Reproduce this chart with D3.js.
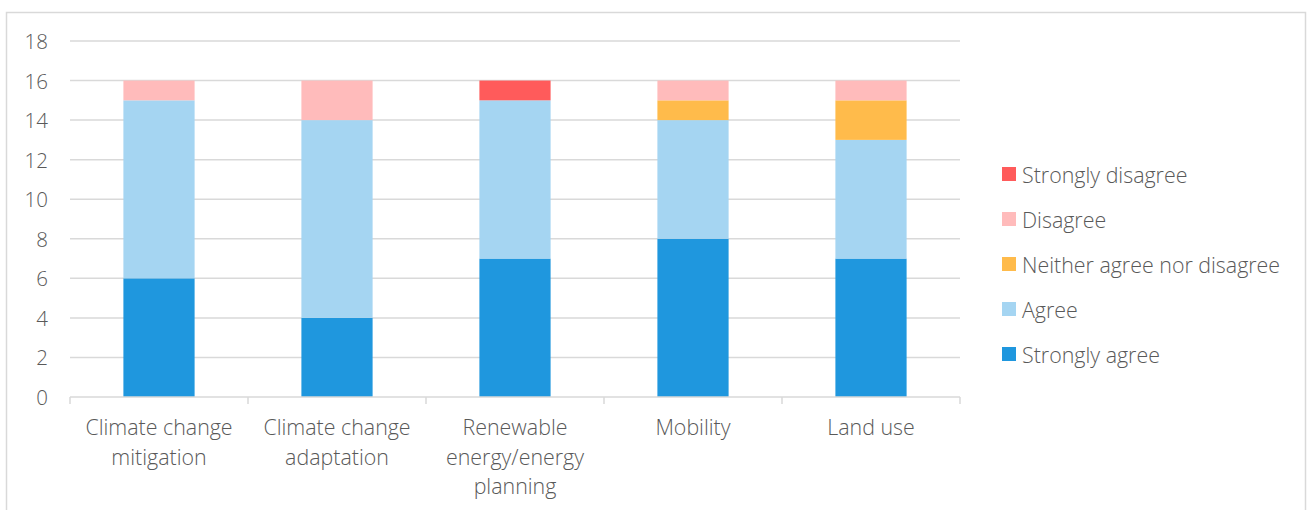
<!DOCTYPE html>
<html>
<head>
<meta charset="utf-8">
<script src="https://cdn.jsdelivr.net/npm/d3@7"></script>
<style>
  html, body { margin: 0; padding: 0; background: #fff; }
  svg { display: block; }
  text { font-family: "Open Sans", "Noto Sans", sans-serif; fill: #595959; font-weight: 300; }
</style>
</head>
<body>
<svg id="chart" width="1308" height="510"></svg>
<script>
// Survey responses per topic (number of respondents)
const categories = [
  ["Climate change", "mitigation"],
  ["Climate change", "adaptation"],
  ["Renewable", "energy/energy", "planning"],
  ["Mobility"],
  ["Land use"]
];
const seriesNames = ["Strongly agree", "Agree", "Neither agree nor disagree", "Disagree", "Strongly disagree"];
const stronglyAgree    = [6, 4, 7, 8, 7];
const agree            = [9, 10, 8, 6, 6];
const neither          = [0, 0, 0, 1, 2];
const disagree         = [1, 2, 0, 1, 1];
const stronglyDisagree = [0, 0, 1, 0, 0];
const yTicks = [0, 2, 4, 6, 8, 10, 12, 14, 16, 18];
const colors = ["#1F97DE", "#A5D5F2", "#FFBB4B", "#FFBBBB", "#FF5B5B"];

const seriesValues = [stronglyAgree, agree, neither, disagree, stronglyDisagree];
const rows = categories.map((c, i) => {
  const r = { key: i };
  seriesNames.forEach((s, j) => r[s] = seriesValues[j][i]);
  return r;
});

const svg = d3.select("#chart");
const fs = "21.4px";

// outer chart frame
svg.append("rect")
  .attr("x", 6.5).attr("y", 12.5)
  .attr("width", 1299).attr("height", 520)
  .attr("fill", "none").attr("stroke", "#D9D9D9").attr("stroke-width", 1.5);

const x = d3.scaleBand().domain(rows.map(r => r.key)).range([70, 960]).paddingInner(0).paddingOuter(0);
const y = d3.scaleLinear().domain([0, 18]).range([397, 41]);

// gridlines
svg.append("g").selectAll("line").data(yTicks.filter(t => t > 0)).join("line")
  .attr("x1", 70).attr("x2", 960)
  .attr("y1", d => y(d)).attr("y2", d => y(d))
  .attr("stroke", "#D9D9D9").attr("stroke-width", 1.5);

// y tick labels
svg.append("g").selectAll("text").data(yTicks).join("text")
  .attr("x", 48).attr("y", d => y(d))
  .attr("text-anchor", "end").attr("dominant-baseline", "central")
  .style("font-size", "20.5px")
  .text(d => d);

// stacked bars
const stack = d3.stack().keys(seriesNames);
const layers = stack(rows);
const bw = x.bandwidth() * 0.4;
svg.append("g").selectAll("g").data(layers).join("g")
  .attr("fill", (d, i) => colors[i])
  .selectAll("rect").data(d => d.filter(p => p[1] > p[0])).join("rect")
  .attr("x", d => x(d.data.key) + (x.bandwidth() - bw) / 2)
  .attr("width", bw)
  .attr("y", d => y(d[1]))
  .attr("height", d => y(d[0]) - y(d[1]));

// x axis line and ticks
const xAxis = svg.append("g");
xAxis.append("line")
  .attr("x1", 70).attr("x2", 960).attr("y1", y(0)).attr("y2", y(0))
  .attr("stroke", "#D9D9D9").attr("stroke-width", 1.5);
const bounds = rows.map(r => x(r.key)).concat([960]);
xAxis.selectAll("line.tick").data(bounds).join("line")
  .attr("class", "tick")
  .attr("x1", d => d).attr("x2", d => d)
  .attr("y1", y(0)).attr("y2", y(0) + 7)
  .attr("stroke", "#D9D9D9").attr("stroke-width", 1.5);

// category labels
const lab = svg.append("g").selectAll("text").data(rows).join("text")
  .attr("x", d => x(d.key) + x.bandwidth() / 2)
  .attr("y", 435)
  .attr("text-anchor", "middle")
  .style("font-size", fs);
lab.selectAll("tspan").data(d => categories[d.key].map((t, i) => ({ t, i }))).join("tspan")
  .attr("x", function() { return this.parentNode.getAttribute("x"); })
  .attr("dy", d => d.i === 0 ? 0 : 29.5)
  .text(d => d.t);

// legend (reverse stacking order)
const legendItems = seriesNames.map((s, i) => ({ s, c: colors[i] })).reverse();
const lg = svg.append("g").selectAll("g").data(legendItems).join("g")
  .attr("transform", (d, i) => `translate(1002, ${174 + i * 45})`);
lg.append("rect").attr("x", 0).attr("y", -7).attr("width", 14).attr("height", 14).attr("fill", d => d.c);
lg.append("text").attr("x", 20).attr("y", 0).attr("dominant-baseline", "central")
  .style("font-size", fs).text(d => d.s);
</script>
</body>
</html>
